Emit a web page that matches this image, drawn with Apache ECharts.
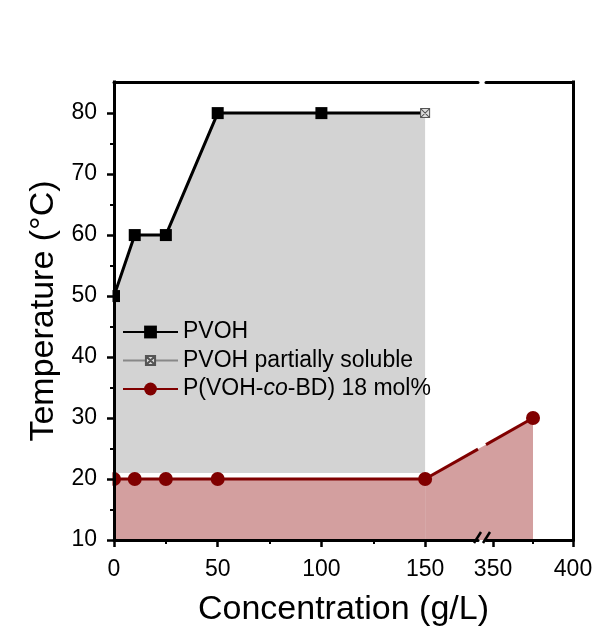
<!DOCTYPE html>
<html>
<head>
<meta charset="utf-8">
<script src="https://cdn.jsdelivr.net/npm/echarts@6/dist/echarts.min.js"></script>
<style>
  html, body { margin: 0; padding: 0; background: #fff; }
  #chart { width: 597px; height: 634px; }
</style>
</head>
<body>
<div id="chart"></div>
<script>
  // data
  var pvohX = [0, 10, 25, 50, 100, 150];
  var pvohY = [50, 60, 60, 80, 80, 80];
  var partialX = [150];
  var partialY = [80];
  var bdX = [0, 10, 25, 50, 150, 375];
  var bdY = [20, 20, 20, 20, 20, 30];

  // tick labels
  var leftTicks = [0, 50, 100, 150];
  var leftMinor = [25, 75, 125];
  var rightTicks = [350, 400];
  var rightMinor = [375];
  var yTicks = [10, 20, 30, 40, 50, 60, 70, 80];
  var yMinor = [15, 25, 35, 45, 55, 65, 75];

  var names = ['PVOH', 'PVOH partially soluble', 'P(VOH-co-BD) 18 mol%'];

  // broken x axis: two pieces
  var leftRange = [0, 175.5];
  var rightRange = [345.6, 400];
  var yRange = [10, 85.1];

  var font = 'Liberation Sans, Arial, sans-serif';
  var red = '#800000';

  function zip(xs, ys) {
    return xs.map(function (x, i) { return [x, ys[i]]; });
  }
  var pvohData = zip(pvohX, pvohY).map(function (p) {
    if (partialX.indexOf(p[0]) >= 0) return { value: p, symbol: 'none' };
    return p;
  });
  var bdAll = zip(bdX, bdY);
  var bdLeft = bdAll.filter(function (p) { return p[0] <= leftRange[1]; });
  var bdRight = bdAll.filter(function (p) { return p[0] >= rightRange[0]; });

  var crossSymbol = 'path://M-2,-2M12,12M0,0H10V10H0ZM0,0L10,10M10,0L0,10';

  var chartDom = document.getElementById('chart');
  var myChart = echarts.init(chartDom);

  var axisLine = { show: true, onZero: false, lineStyle: { color: '#000', width: 3 } };
  var axisLineV = { show: true, onZero: false, lineStyle: { color: '#000', width: 3, cap: 'square' } };
  var label = { color: '#000', fontSize: 23, fontFamily: font };

  function xMain(grid, range, ticks) {
    return {
      gridIndex: grid, type: 'value', min: range[0], max: range[1], position: 'bottom', z: 10,
      axisLine: axisLine,
      axisTick: { show: true, customValues: ticks, length: 7, lineStyle: { color: '#000', width: 2.5 } },
      axisLabel: Object.assign({ customValues: ticks, margin: 18 }, label),
      splitLine: { show: false }
    };
  }
  function xTop(grid, range) {
    return {
      gridIndex: grid, type: 'value', min: range[0], max: range[1], position: 'top', z: 10,
      axisLine: axisLine, axisTick: { show: false }, axisLabel: { show: false }, splitLine: { show: false }
    };
  }
  function xMinor(grid, range, ticks) {
    return {
      gridIndex: grid, type: 'value', min: range[0], max: range[1], position: 'bottom', z: 10,
      axisLine: { show: false },
      axisTick: { show: true, customValues: ticks, length: 4, lineStyle: { color: '#000', width: 2 } },
      axisLabel: { show: false }, splitLine: { show: false }
    };
  }

  myChart.setOption({
    animation: false,
    backgroundColor: '#fff',
    grid: [
      { left: 114, top: 82, width: 364, height: 458 },
      { left: 486, top: 82, width: 87, height: 458 },
      { left: 114, top: 82, width: 364, height: 458 },
      { left: 486, top: 82, width: 87, height: 458 }
    ],
    xAxis: [
      xMain(0, leftRange, leftTicks),
      xTop(0, leftRange),
      xMain(1, rightRange, rightTicks),
      xTop(1, rightRange),
      xMinor(2, leftRange, leftMinor),
      xMinor(3, rightRange, rightMinor)
    ],
    yAxis: [
      {
        gridIndex: 0, type: 'value', min: yRange[0], max: yRange[1], position: 'left', z: 10,
        axisLine: axisLineV,
        axisTick: { show: true, customValues: yTicks, length: 7, lineStyle: { color: '#000', width: 2.5 } },
        axisLabel: Object.assign({ customValues: yTicks, margin: 17 }, label),
        splitLine: { show: false },
        name: 'Temperature (°C)', nameLocation: 'middle', nameGap: 48,
        nameTextStyle: { color: '#000', fontSize: 34, fontFamily: font }
      },
      {
        gridIndex: 1, type: 'value', min: yRange[0], max: yRange[1], position: 'right', z: 10,
        axisLine: axisLineV, axisTick: { show: false }, axisLabel: { show: false }, splitLine: { show: false }
      },
      {
        gridIndex: 2, type: 'value', min: yRange[0], max: yRange[1], position: 'left', z: 10,
        axisLine: { show: false },
        axisTick: { show: true, customValues: yMinor, length: 4, lineStyle: { color: '#000', width: 2 } },
        axisLabel: { show: false }, splitLine: { show: false }
      },
      { gridIndex: 3, type: 'value', min: yRange[0], max: yRange[1], show: false }
    ],
    legend: {
      data: names,
      orient: 'vertical',
      left: 117,
      top: 315,
      itemWidth: 55,
      itemHeight: 16,
      itemGap: 4.5,
      textStyle: {
        color: '#000', fontSize: 23, fontFamily: font, lineHeight: 24,
        rich: {
          n: { color: '#000', fontSize: 23, fontFamily: font, lineHeight: 24 },
          i: { color: '#000', fontSize: 23, fontFamily: font, fontStyle: 'italic', lineHeight: 24 }
        }
      },
      formatter: function (name) {
        if (name === names[2]) return '{n|P(VOH-}{i|co}{n|-BD) 18 mol%}';
        return name;
      }
    },
    series: [
      {
        name: names[0], type: 'line', xAxisIndex: 0, yAxisIndex: 0, z: 2,
        data: pvohData,
        symbol: 'rect', symbolSize: 12,
        itemStyle: { color: '#000' },
        lineStyle: { color: '#000', width: 3 },
        areaStyle: { color: '#d3d3d3', opacity: 1, origin: 21 }
      },
      {
        name: names[1], type: 'line', xAxisIndex: 0, yAxisIndex: 0, z: 4,
        data: zip(partialX, partialY),
        symbol: crossSymbol, symbolSize: 12.6,
        itemStyle: { color: '#dedede', borderColor: '#555', borderWidth: 1 },
        lineStyle: { color: '#888', width: 1 }
      },
      {
        name: names[2], type: 'line', xAxisIndex: 0, yAxisIndex: 0, z: 3,
        data: bdLeft,
        symbol: 'circle', symbolSize: 14,
        itemStyle: { color: red },
        lineStyle: { color: red, width: 3 },
        areaStyle: { color: '#d39f9f', opacity: 1, origin: 'start' }
      },
      {
        name: names[2], type: 'line', xAxisIndex: 2, yAxisIndex: 1, z: 3,
        data: bdRight,
        symbol: 'circle', symbolSize: 14,
        itemStyle: { color: red },
        lineStyle: { color: red, width: 3 }
      }
    ]
  });

  // segment of the red curve that crosses the axis break
  var a = myChart.convertToPixel({ xAxisIndex: 0, yAxisIndex: 0 }, bdLeft[bdLeft.length - 1]);
  var b = myChart.convertToPixel({ xAxisIndex: 2, yAxisIndex: 1 }, bdRight[0]);
  var a0 = myChart.convertToPixel({ xAxisIndex: 0, yAxisIndex: 0 }, [bdLeft[bdLeft.length - 1][0], yRange[0]]);
  var b0 = myChart.convertToPixel({ xAxisIndex: 2, yAxisIndex: 1 }, [bdRight[0][0], yRange[0]]);
  var gapL = myChart.convertToPixel({ xAxisIndex: 0, yAxisIndex: 0 }, [leftRange[1], yRange[0]]);
  var gapR = myChart.convertToPixel({ xAxisIndex: 2, yAxisIndex: 1 }, [rightRange[0], yRange[0]]);
  var corner = myChart.convertToPixel({ xAxisIndex: 0, yAxisIndex: 0 }, [0, yRange[1]]);
  var endR = myChart.convertToPixel({ xAxisIndex: 2, yAxisIndex: 1 }, [rightRange[1], yRange[0]]);

  function yAt(px) {
    return a[1] + (b[1] - a[1]) * (px - a[0]) / (b[0] - a[0]);
  }
  var cx = (gapL[0] + gapR[0]) / 2;
  var by = gapL[1];

  myChart.setOption({
    graphic: [
      {
        type: 'polygon', z: 1, silent: true,
        shape: { points: [a, b, b0, a0] },
        style: { fill: '#d39f9f' }
      },
      {
        type: 'line', z: 2, silent: true,
        shape: { x1: a[0], y1: a[1], x2: gapL[0], y2: yAt(gapL[0]) },
        style: { stroke: red, lineWidth: 3 }
      },
      {
        type: 'line', z: 2, silent: true,
        shape: { x1: gapR[0], y1: yAt(gapR[0]), x2: b[0], y2: b[1] },
        style: { stroke: red, lineWidth: 3 }
      },
      {
        // hide marker halves sticking out left of the plot
        type: 'rect', z: 9, silent: true,
        shape: { x: corner[0] - 14, y: corner[1], width: 12.5, height: by - corner[1] },
        style: { fill: '#fff' }
      },
      {
        type: 'line', z: 11, silent: true,
        shape: { x1: cx - 8, y1: by + 3, x2: cx - 1, y2: by - 8 },
        style: { stroke: '#000', lineWidth: 2.5 }
      },
      {
        type: 'line', z: 11, silent: true,
        shape: { x1: cx + 1, y1: by + 3, x2: cx + 8, y2: by - 8 },
        style: { stroke: '#000', lineWidth: 2.5 }
      },
      {
        type: 'text', z: 11, silent: true,
        x: (corner[0] + endR[0]) / 2, y: 610,
        style: {
          text: 'Concentration (g/L)',
          fill: '#000', fontSize: 34, fontFamily: font,
          align: 'center', verticalAlign: 'middle'
        }
      }
    ]
  });
</script>
</body>
</html>
